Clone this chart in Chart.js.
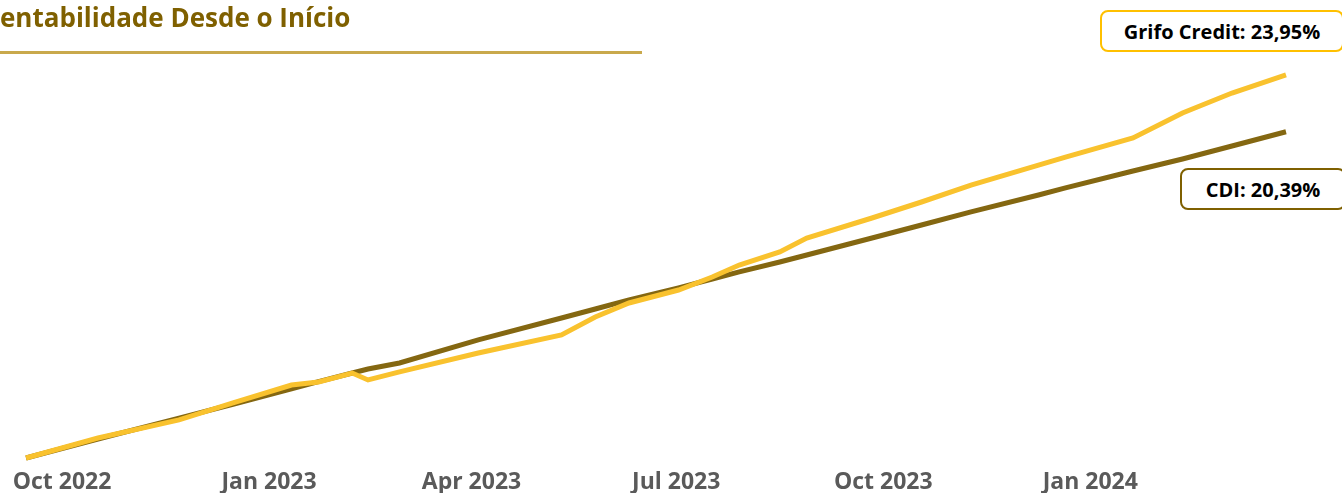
<!DOCTYPE html>
<html>
<head>
<meta charset="utf-8">
<script src="https://cdn.jsdelivr.net/npm/chart.js@4"></script>
<style>
  html, body { margin: 0; padding: 0; background: #fff; }
  body { width: 1342px; height: 493px; position: relative; overflow: hidden; font-family: "Open Sans", Lato, sans-serif; }
  #wrap { position: absolute; left: 0; top: 0; width: 1342px; height: 493px; }
  #title { position: absolute; top: 0px; left: 0; font-weight: 700; font-size: 26px; line-height: 34px; color: #7f6000; white-space: nowrap; }
  #rule { position: absolute; left: 0; top: 51px; width: 642px; height: 3px; background: #c9a94c; }
  .tag { position: absolute; box-sizing: border-box; height: 42px; border-radius: 8px; border: 2px solid; background: #fff;
         font-weight: 700; font-size: 20px; color: #000; display: flex; align-items: center; justify-content: center; white-space: nowrap; }
  #tagG { left: 1100px; top: 10px; width: 244px; border-color: #ffc000; }
  #tagC { left: 1180px; top: 168px; width: 166px; border-color: #7f6000; }
</style>
</head>
<body>
<div id="wrap"><canvas id="c" width="1342" height="493"></canvas></div>
<div id="title"><span id="r1">R</span>entabilidade Desde o Início</div>
<div id="rule"></div>
<div class="tag" id="tagG"></div>
<div class="tag" id="tagC"></div>
<script>
// ---- data ----
const dates = ['2022-09-15','2022-10-17','2022-11-22','2022-12-16','2023-01-11','2023-01-23','2023-02-07','2023-02-14',
  '2023-02-28','2023-04-04','2023-05-11','2023-05-26','2023-06-10','2023-07-02','2023-07-17','2023-07-29','2023-08-16',
  '2023-08-28','2023-09-26','2023-10-18','2023-11-09','2023-12-09','2023-12-21','2024-01-20','2024-02-11','2024-03-04','2024-03-28'];
const grifoCredit = [0, 1.25, 2.38, 3.44, 4.56, 4.75, 5.31, 4.88,
  5.38, 6.56, 7.69, 8.81, 9.69, 10.5, 11.31, 12.06, 12.88,
  13.75, 15.0, 16.0, 17.06, 18.31, 18.81, 20.0, 21.56, 22.81, 23.95];
const cdi = [0, 1.19, 2.49, 3.36, 4.33, 4.77, 5.31, 5.56,
  5.94, 7.38, 8.75, 9.31, 9.88, 10.63, 11.19, 11.63, 12.25,
  12.69, 13.75, 14.56, 15.38, 16.44, 16.88, 17.94, 18.69, 19.5, 20.39];
const tickDates = ['2022-10-01','2023-01-01','2023-04-01','2023-07-01','2023-10-01','2024-01-01'];
const tickLabels = ['Oct 2022','Jan 2023','Apr 2023','Jul 2023','Oct 2023','Jan 2024'];
const seriesNames = ['Grifo Credit', 'CDI'];
const finalLabels = ['23,95%', '20,39%'];

// ---- helpers ----
const origin = Date.UTC(2022, 9, 1);
const dayOf = s => { const [y, m, d] = s.split('-').map(Number); return Math.round((Date.UTC(y, m - 1, d) - origin) / 86400000); };
const tickDays = tickDates.map(dayOf);
const toPts = vals => dates.map((d, i) => ({ x: dayOf(d), y: vals[i] }));

document.getElementById('tagG').textContent = seriesNames[0] + ': ' + finalLabels[0];
document.getElementById('tagC').textContent = seriesNames[1] + ': ' + finalLabels[1];
const t = document.getElementById('title');
t.style.left = (-document.getElementById('r1').getBoundingClientRect().width) + 'px';

new Chart(document.getElementById('c'), {
  type: 'line',
  data: {
    datasets: [
      { label: seriesNames[1], data: toPts(cdi), borderColor: '#846711', borderWidth: 5, pointRadius: 0, tension: 0, order: 2 },
      { label: seriesNames[0], data: toPts(grifoCredit), borderColor: '#f9c22e', borderWidth: 5, pointRadius: 0, tension: 0, order: 1 }
    ]
  },
  options: {
    responsive: false,
    animation: false,
    events: [],
    layout: { padding: { left: 21.5, right: 42.5, top: 58, bottom: 0 } },
    plugins: { legend: { display: false }, tooltip: { enabled: false } },
    scales: {
      x: {
        type: 'linear', min: -18, max: 550,
        grid: { display: false, drawTicks: false }, border: { display: false },
        afterBuildTicks: s => { s.ticks = tickDays.map(v => ({ value: v })); },
        ticks: {
          autoSkip: false, maxRotation: 0, padding: 3,
          color: '#5a5a5a', font: { family: 'Open Sans', weight: 'bold', size: 23, lineHeight: 0.6957 },
          callback: (v) => tickLabels[tickDays.indexOf(v)]
        }
      },
      y: { display: false, min: -0.8125, max: 25 }
    }
  }
});
</script>
</body>
</html>
